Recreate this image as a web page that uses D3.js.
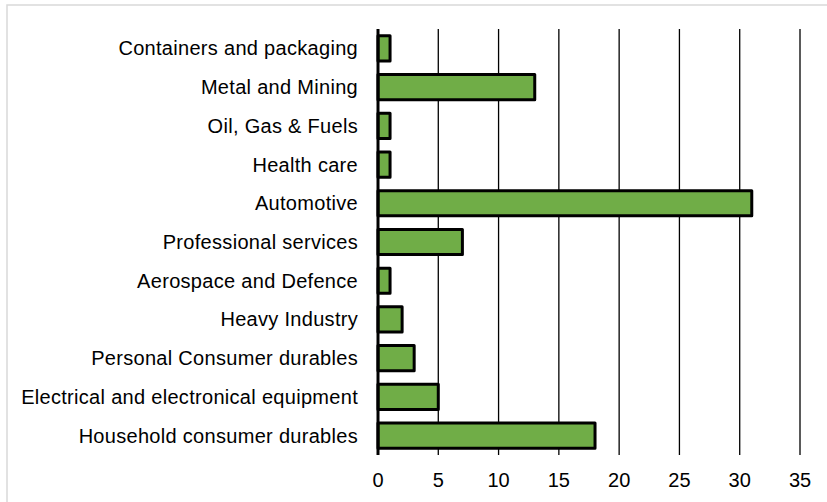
<!DOCTYPE html>
<html>
<head>
<meta charset="utf-8">
<script src="https://cdn.jsdelivr.net/npm/d3@7/dist/d3.min.js"></script>
<style>
  html, body { margin: 0; padding: 0; background: #fff; }
  svg { display: block; }
  text { font-family: "Liberation Sans", Arial, sans-serif; fill: #000; }
</style>
</head>
<body>
<svg id="chart" width="827" height="502"></svg>
<script>
// Industry sectors and their counts
const categories = [
  "Containers and packaging",
  "Metal and Mining",
  "Oil, Gas & Fuels",
  "Health care",
  "Automotive",
  "Professional services",
  "Aerospace and Defence",
  "Heavy Industry",
  "Personal Consumer durables",
  "Electrical and electronical equipment",
  "Household consumer durables"
];
const values = [1, 13, 1, 1, 31, 7, 1, 2, 3, 5, 18];
const xTicks = [0, 5, 10, 15, 20, 25, 30, 35];

const svg = d3.select("#chart");
const W = 827, H = 502;
const margin = { left: 378, right: 27, top: 29, bottom: 47 };

// Outer frame (only top and left edges fall inside the canvas)
svg.append("rect")
  .attr("x", 7).attr("y", 5)
  .attr("width", W + 20).attr("height", H + 20)
  .attr("fill", "none")
  .attr("stroke", "#d9d9d9")
  .attr("stroke-width", 1.5);

const x = d3.scaleLinear().domain([0, 35]).range([margin.left, W - margin.right]);
const y = d3.scaleBand().domain(categories)
  .range([margin.top, H - margin.bottom])
  .paddingInner(0.35).paddingOuter(0.175);

// Vertical gridlines
svg.append("g")
  .selectAll("line")
  .data(xTicks.filter(d => d > 0))
  .join("line")
  .attr("x1", d => x(d)).attr("x2", d => x(d))
  .attr("y1", margin.top).attr("y2", H - margin.bottom)
  .attr("stroke", "#000")
  .attr("stroke-width", 1.3);

// Bars
svg.append("g")
  .selectAll("rect")
  .data(categories.map((c, i) => ({ c, v: values[i] })))
  .join("rect")
  .attr("x", x(0))
  .attr("y", d => y(d.c))
  .attr("width", d => x(d.v) - x(0))
  .attr("height", y.bandwidth())
  .attr("fill", "#70AD47")
  .attr("stroke", "#000")
  .attr("stroke-width", 3)
  .attr("stroke-linejoin", "round");

// Category axis line
svg.append("line")
  .attr("x1", x(0)).attr("x2", x(0))
  .attr("y1", margin.top).attr("y2", H - margin.bottom)
  .attr("stroke", "#000")
  .attr("stroke-width", 3);

// Category labels
svg.append("g")
  .selectAll("text")
  .data(categories)
  .join("text")
  .attr("x", x(0) - 20)
  .attr("y", d => y(d) + y.bandwidth() / 2)
  .attr("dy", "0.35em")
  .attr("text-anchor", "end")
  .attr("font-size", 20)
  .attr("letter-spacing", 0.3)
  .text(d => d);

// Value tick labels
svg.append("g")
  .selectAll("text")
  .data(xTicks)
  .join("text")
  .attr("x", d => x(d))
  .attr("y", 480)
  .attr("dy", "0.35em")
  .attr("text-anchor", "middle")
  .attr("font-size", 20)
  .text(d => d);
</script>
</body>
</html>
